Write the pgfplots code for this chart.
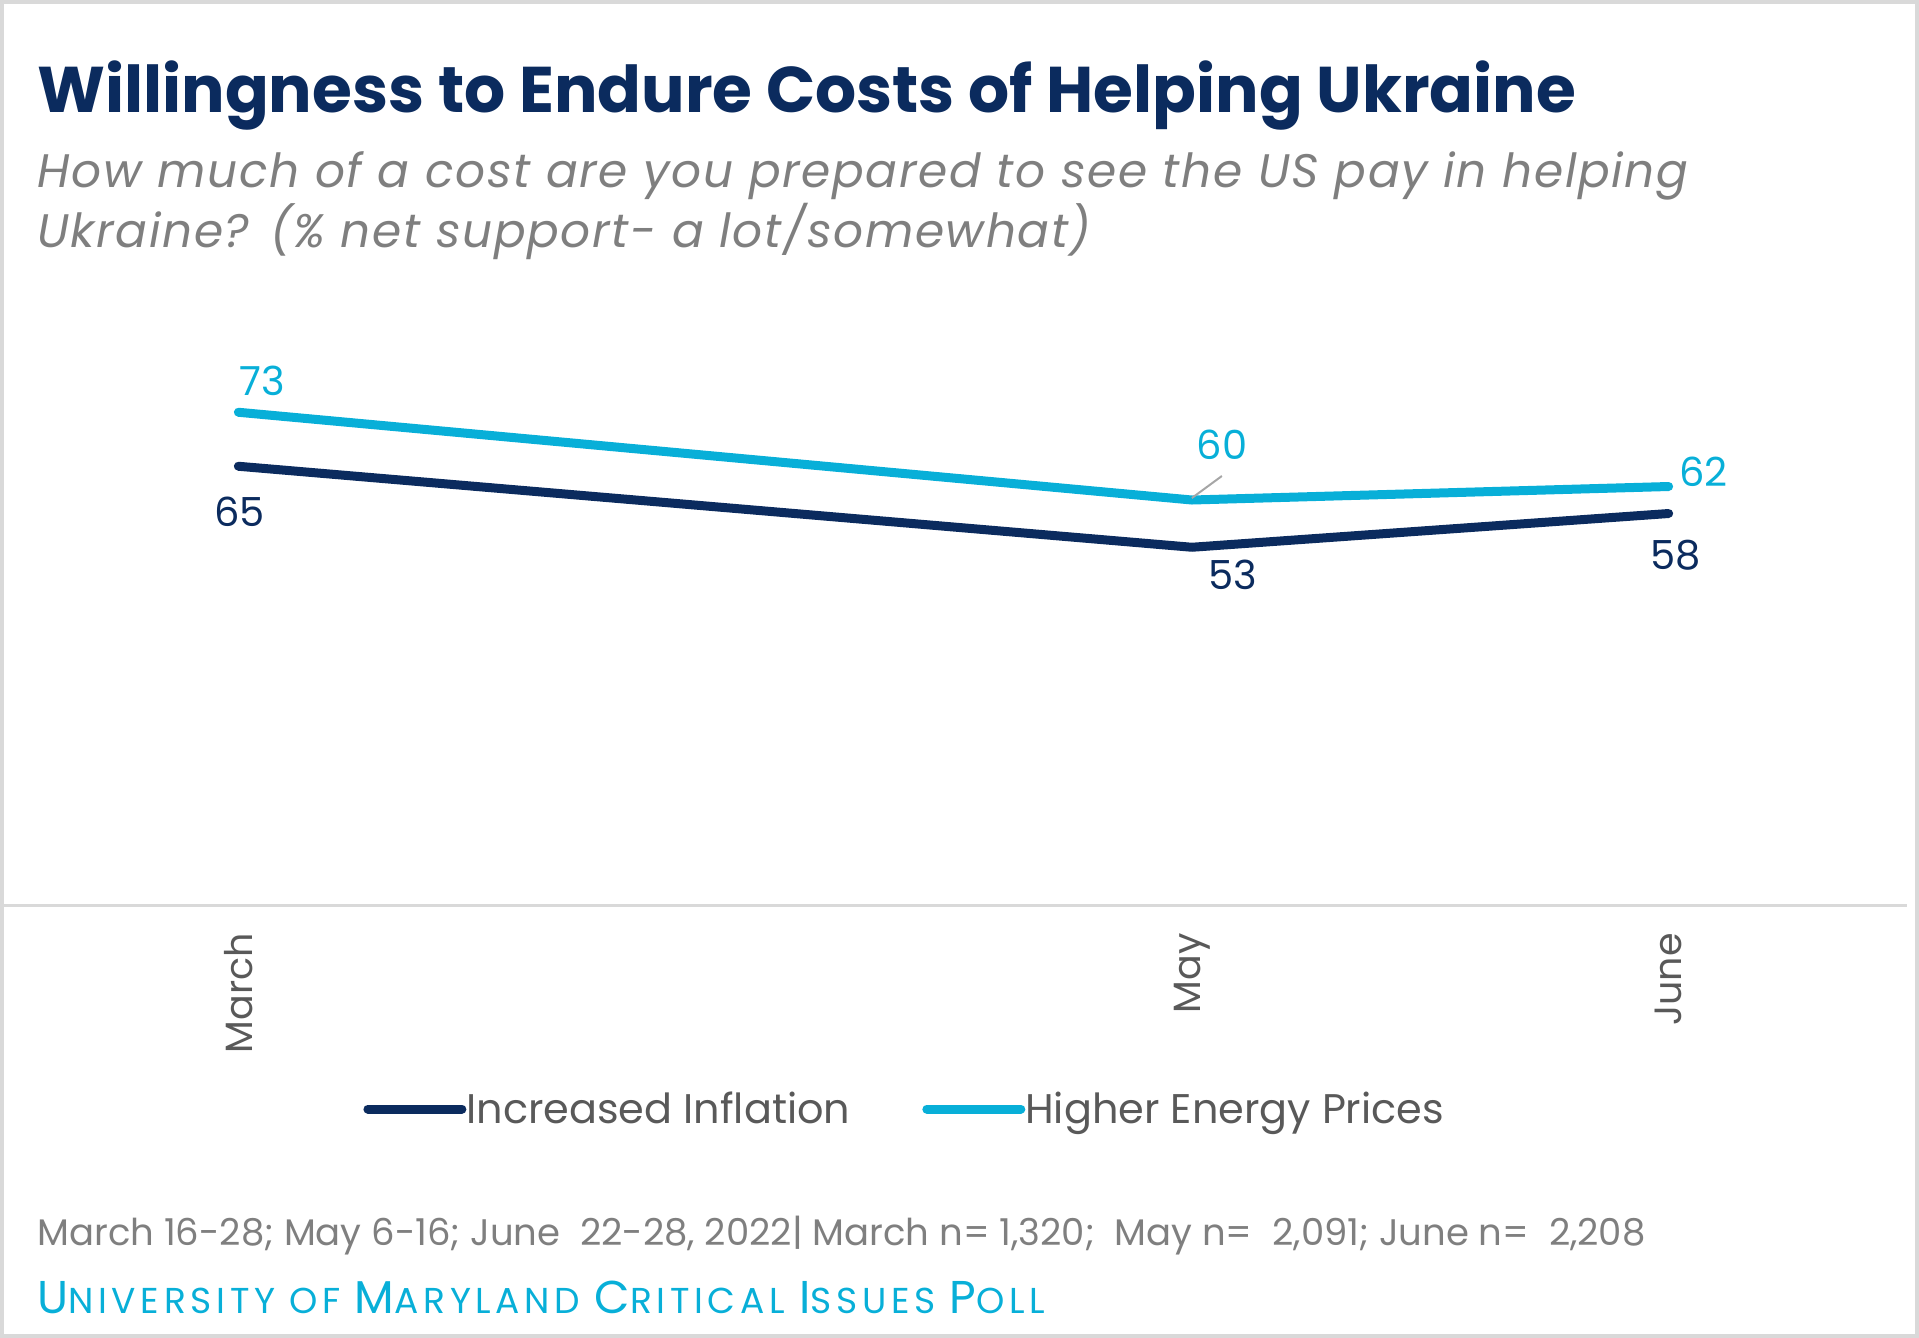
\documentclass[border=0pt]{standalone}
\usepackage{pgfplots}
\pgfplotsset{compat=1.18}
\usepackage{fontspec}
\setmainfont{Poppins}
\definecolor{navy}{HTML}{0B2B5E}
\definecolor{sky}{HTML}{08AFD8}
\definecolor{subgray}{HTML}{7F7F7F}
\definecolor{tickgray}{HTML}{595959}
\definecolor{linegray}{HTML}{D9D9D9}
\definecolor{leadgray}{HTML}{A6A6A6}
\newcommand\bigc{\fontsize{23}{27}\selectfont}
\newcommand\smallc{\fontsize{18}{22}\selectfont}
\begin{document}
\begin{tikzpicture}
\useasboundingbox (0,0) rectangle (959.5pt,-669pt);
\draw[linegray, line width=2pt] (1pt,-1pt) rectangle (958.5pt,-668pt);
\node[anchor=base west, inner sep=0pt, text=navy, font=\fontsize{32.3}{38}\selectfont\bfseries] at (18.5pt,-56.5pt) {Willingness to Endure Costs of Helping Ukraine};
\node[anchor=base west, inner sep=0pt, text=subgray, font=\fontsize{23.5}{28}\selectfont\itshape\addfontfeatures{LetterSpace=3.5}] at (18.5pt,-94pt) {How much of a cost are you prepared to see the US pay in helping};
\node[anchor=base west, inner sep=0pt, text=subgray, font=\fontsize{23.5}{28}\selectfont\itshape\addfontfeatures{LetterSpace=3.5}] at (18.5pt,-124pt) {Ukraine? (\% net support- a lot/somewhat)};
\node[anchor=base west, inner sep=0pt, text=subgray, font=\fontsize{18.5}{22}\selectfont] at (18.5pt,-622.5pt) {March 16-28; May 6-16; June\ \ 22-28, 2022| March n= 1,320;\ \ May n=\ \ 2,091; June n=\ \ 2,208};
\node[anchor=base west, inner sep=0pt, text=sky, font=\addfontfeatures{LetterSpace=13}] at (18.5pt,-656.5pt) {\bigc U\smallc NIVERSITY OF \bigc M\smallc ARYLAND \bigc C\smallc RITICAL \bigc I\smallc SSUES \bigc P\smallc OLL};
\begin{axis}[
  at={(0pt,-452.5pt)}, anchor=south west,
  scale only axis, width=953.5pt, height=270pt,
  xmin=2.5, xmax=6.5, ymin=0, ymax=80,
  axis x line=bottom, axis y line=none,
  x axis line style={-, draw=linegray, line width=1.5pt},
  xtick={3,5,6}, xticklabels={March,May,June},
  major tick length=0pt,
  xticklabel style={rotate=90, anchor=east, inner sep=0pt, text=tickgray, font=\fontsize{19}{23}\selectfont},
  xticklabel shift=14pt,
  clip=false,
  legend columns=2,
  legend style={at={(0.19035,-0.3778)}, anchor=west, draw=none, fill=none, inner sep=0pt, column sep=0pt,
    nodes={inner sep=0pt, text=tickgray, font=\fontsize{20.7}{24}\selectfont},
    /tikz/every even column/.append style={column sep=36pt}},
  legend image code/.code={\path (0pt,0pt) -- (47pt,0pt); \draw[#1, line cap=round] (2.25pt,0pt) -- (38pt,0pt);},
]
\addplot[navy, line width=4.5pt, line cap=round, line join=round] coordinates {(3,65) (5,53) (6,58)};
\addlegendentry{Increased Inflation}
\addplot[sky, line width=4.5pt, line cap=round, line join=round] coordinates {(3,73) (5,60) (6,62)};
\addlegendentry{Higher Energy Prices}
\begin{scope}[every node/.style={anchor=base, inner sep=0pt, font=\fontsize{20}{24}\selectfont}]
\node[text=sky, xshift=12pt, yshift=8.5pt] at (axis cs:3,73) {73};
\node[text=navy, xshift=0.5pt, yshift=-30pt] at (axis cs:3,65) {65};
\node[text=sky, xshift=15pt, yshift=20.5pt] at (axis cs:5,60) {60};
\node[text=navy, xshift=20.5pt, yshift=-21pt] at (axis cs:5,53) {53};
\node[text=sky, xshift=17.5pt, yshift=0pt] at (axis cs:6,62) {62};
\node[text=navy, xshift=3.5pt, yshift=-28pt] at (axis cs:6,58) {58};
\end{scope}
\draw[leadgray, line width=1pt] (axis cs:5,60) ++(0pt,1pt) -- ++(15pt,11pt);
\end{axis}
\end{tikzpicture}
\end{document}
